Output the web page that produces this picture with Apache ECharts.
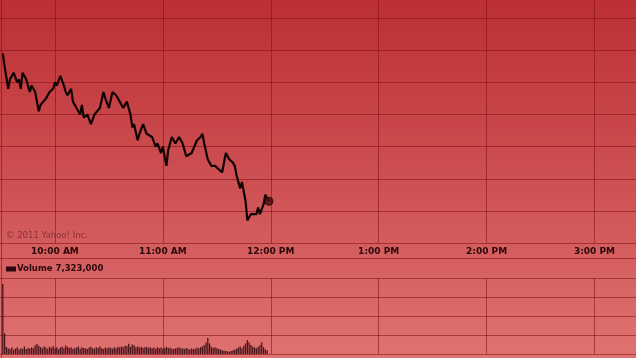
<!DOCTYPE html>
<html>
<head>
<meta charset="utf-8">
<script src="https://cdn.jsdelivr.net/npm/echarts@6/dist/echarts.min.js"></script>
<style>
  html, body { margin: 0; padding: 0; background: #cd4f51; }
  #chart { width: 636px; height: 358px; }
</style>
</head>
<body>
<div id="chart"></div>
<script>
// ---- data ----
const priceTimes = ['9:31','9:32','9:33','9:34','9:35','9:37','9:38','9:39','9:40','9:41','9:42','9:44','9:46','9:47','9:49','9:51','9:52','9:53','9:55','9:57','9:59','10:00','10:01','10:03','10:05','10:06','10:07','10:09','10:10','10:12','10:14','10:15','10:16','10:18','10:20','10:22','10:25','10:27','10:28','10:30','10:32','10:34','10:36','10:38','10:40','10:42','10:43','10:44','10:46','10:47','10:49','10:51','10:54','10:56','10:57','10:59','11:00','11:02','11:03','11:05','11:07','11:09','11:11','11:13','11:16','11:19','11:21','11:22','11:23','11:25','11:27','11:29','11:31','11:33','11:35','11:37','11:39','11:40','11:41','11:43','11:44','11:45','11:46','11:47','11:49','11:50','11:52','11:53','11:54','11:56','11:57','11:58','11:59'];
const prices = [24.79,24.75,24.75,24.68,24.71,24.73,24.73,24.70,24.71,24.68,24.73,24.71,24.67,24.69,24.67,24.61,24.63,24.63,24.65,24.67,24.68,24.70,24.69,24.72,24.69,24.67,24.66,24.68,24.64,24.62,24.60,24.63,24.59,24.60,24.57,24.60,24.62,24.67,24.65,24.62,24.67,24.66,24.64,24.62,24.64,24.60,24.56,24.57,24.52,24.54,24.57,24.54,24.53,24.50,24.51,24.48,24.50,24.44,24.49,24.53,24.51,24.53,24.51,24.47,24.48,24.52,24.53,24.54,24.51,24.46,24.44,24.44,24.43,24.42,24.48,24.46,24.45,24.44,24.41,24.37,24.39,24.39,24.33,24.27,24.29,24.29,24.29,24.31,24.29,24.32,24.35,24.34,24.33];

const volumeStart = '9:31';
const volumes = [368000,108000,
  38000,30000,26000,34000,22000,28000,36000,24000,30000,27000,40000,26000,32000,29000,35000,30000,46000,52000,
  44000,36000,30000,40000,34000,28000,38000,32000,42000,30000,36000,26000,34000,40000,30000,45000,38000,32000,36000,28000,
  30000,34000,40000,28000,36000,32000,30000,26000,34000,38000,30000,28000,36000,32000,40000,30000,26000,34000,30000,36000,
  32000,28000,36000,30000,38000,34000,40000,36000,44000,42000,54000,38000,50000,46000,36000,40000,34000,38000,32000,36000,
  38000,32000,36000,30000,34000,28000,36000,30000,34000,28000,32000,38000,30000,34000,28000,26000,30000,32000,36000,30000,
  30000,26000,32000,28000,24000,30000,26000,28000,34000,30000,36000,40000,48000,60000,84000,56000,38000,32000,36000,30000,
  26000,24000,20000,18000,16000,14000,12000,16000,20000,24000,
  28000,34000,40000,30000,44000,56000,74000,62000,48000,40000,
  34000,30000,38000,46000,62000,36000,24000,20000];

const axisStart = '9:00';   // hour-aligned axis start (left of the visible session)
const sessionClose = '16:00';
const priceMin = 24.2, priceMax = 25.0, priceStep = 0.1;
const volMax = 400000, volStep = 100000;
const totalVolumeLabel = 'Volume 7,323,000';
const copyrightText = '\u00A9 2011 Yahoo! Inc.';

// ---- helpers ----
function toMin(s) { const p = s.split(':'); return (+p[0]) * 60 + (+p[1]); }
function fmtTime(v) {
  if (v % 60 !== 0) return '';
  let h = v / 60;
  const ap = h >= 12 ? 'PM' : 'AM';
  let hh = h % 12; if (hh === 0) hh = 12;
  return hh + ':00 ' + ap;
}

const priceData = priceTimes.map((t, i) => [toMin(t), prices[i]]);
const vStart = toMin(volumeStart);
const volData = volumes.map((v, i) => [vStart + i, v]);
const lastPoint = priceData[priceData.length - 1];

const gridColor = 'rgba(125,12,18,0.55)';
const xMin = toMin(axisStart), xMax = toMin(sessionClose);
const hourPx = 107.9;
const gridLeft = 1 - hourPx / 2;
const gridWidth = hourPx * (xMax - xMin) / 60;

const chart = echarts.init(document.getElementById('chart'), null, { renderer: 'canvas' });
chart.setOption({
  animation: false,
  backgroundColor: {
    type: 'linear', x: 0, y: 0, x2: 0, y2: 1,
    colorStops: [
      { offset: 0, color: '#bc2f34' },
      { offset: 0.5, color: '#cd5052' },
      { offset: 1, color: '#e07272' }
    ]
  },
  grid: [
    { left: gridLeft, top: -14, width: gridWidth, height: 257, outerBoundsMode: 'none', containLabel: false },
    { left: gridLeft, top: 278, width: gridWidth, height: 76, outerBoundsMode: 'none', containLabel: false }
  ],
  xAxis: [
    {
      type: 'value', gridIndex: 0, min: xMin, max: xMax, interval: 60,
      axisLine: { show: false }, axisTick: { show: false },
      axisLabel: {
        show: true, formatter: fmtTime, margin: 4, hideOverlap: false,
        color: '#2a080b', fontFamily: 'DejaVu Sans', fontWeight: 'bold', fontSize: 9
      },
      splitLine: { show: true, lineStyle: { color: gridColor, width: 1 } }
    },
    {
      type: 'value', gridIndex: 1, min: xMin, max: xMax, interval: 60,
      axisLine: { show: false }, axisTick: { show: false }, axisLabel: { show: false },
      splitLine: { show: true, lineStyle: { color: gridColor, width: 1 } }
    }
  ],
  yAxis: [
    {
      type: 'value', gridIndex: 0, min: priceMin, max: priceMax, interval: priceStep,
      axisLine: { show: false }, axisTick: { show: false }, axisLabel: { show: false },
      splitLine: { show: true, lineStyle: { color: gridColor, width: 1 } }
    },
    {
      type: 'value', gridIndex: 1, min: 0, max: volMax, interval: volStep,
      axisLine: { show: false }, axisTick: { show: false }, axisLabel: { show: false },
      splitLine: { show: true, lineStyle: { color: gridColor, width: 1 } }
    }
  ],
  series: [
    {
      type: 'line', xAxisIndex: 0, yAxisIndex: 0, data: priceData,
      showSymbol: false, symbol: 'none',
      lineStyle: { color: '#120405', width: 2.2 }, z: 5
    },
    {
      type: 'scatter', xAxisIndex: 0, yAxisIndex: 0, data: [lastPoint],
      symbolSize: 8, itemStyle: { color: '#4a0d12', borderColor: '#1a0305', borderWidth: 1 }, z: 6
    },
    {
      type: 'bar', xAxisIndex: 1, yAxisIndex: 1, data: volData,
      barWidth: 1.3, itemStyle: { color: '#3a0a12', opacity: 0.9 }
    }
  ],
  graphic: [
    { type: 'line', shape: { x1: 0, y1: 258.5, x2: 636, y2: 258.5 }, style: { stroke: gridColor, lineWidth: 1 } },
    { type: 'line', shape: { x1: 1.5, y1: 0, x2: 1.5, y2: 358 }, style: { stroke: gridColor, lineWidth: 1 } },
    { type: 'text', left: 6, top: 231, style: { text: copyrightText, fill: '#863238', font: '8.5px "DejaVu Sans"' } },
    { type: 'rect', shape: { x: 6, y: 266.5, width: 10, height: 5 }, style: { fill: '#2a080b' } },
    { type: 'text', left: 17, top: 264.5, style: { text: totalVolumeLabel, fill: '#2a080b', font: 'bold 8.5px "DejaVu Sans"' } }
  ]
});
</script>
</body>
</html>
